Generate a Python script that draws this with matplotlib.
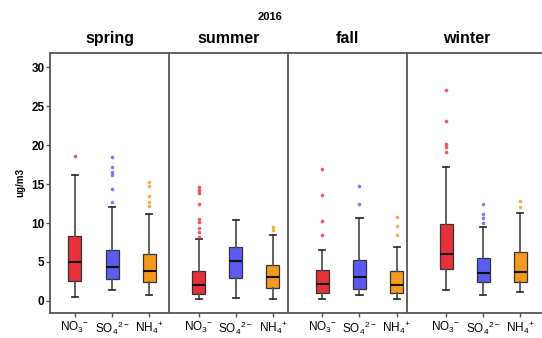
import matplotlib
matplotlib.use("Agg")
import matplotlib.pyplot as plt

plt.rcParams['font.family'] = ['Liberation Sans', 'DejaVu Sans']
plt.rcParams['mathtext.default'] = 'regular'

seasons = ["spring", "summer", "fall", "winter"]
species = [r"NO$_3$$^{-}$", r"SO$_4$$^{2-}$", r"NH$_4$$^{+}$"]
colors = ["#e8303a", "#5c5cf2", "#f39a1c"]

# five-number summaries [whislo, q1, med, q3, whishi] per season, per species
spring_stats = [[0.55, 2.56, 5.04, 8.38, 16.2], [1.41, 2.82, 4.40, 6.58, 12.0], [0.77, 2.48, 3.85, 6.07, 11.15]]
summer_stats = [[0.3, 0.95, 2.05, 3.9, 7.9], [0.35, 3.0, 5.1, 6.9, 10.4], [0.26, 1.7, 3.1, 4.57, 8.46]]
fall_stats = [[0.3, 1.07, 2.14, 3.97, 6.58], [0.77, 1.58, 3.1, 5.2, 10.6], [0.3, 1.07, 2.05, 3.85, 6.97]]
winter_stats = [[1.41, 4.15, 6.03, 9.87, 17.2], [0.77, 2.48, 3.63, 5.5, 9.44], [1.2, 2.48, 3.76, 6.28, 11.3]]

spring_out = [[18.6], [18.5, 17.2, 16.6, 16.2, 14.4, 12.7], [15.2, 14.7, 13.4, 12.7, 12.2]]
summer_out = [[14.6, 14.2, 13.8, 12.4, 10.5, 10.1, 9.3, 8.9, 8.2], [], [9.5, 9.1]]
fall_out = [[16.9, 13.6, 10.3, 8.46], [14.8, 12.5], [10.8, 9.6, 8.4]]
winter_out = [[27.05, 23.1, 20.1, 19.8, 19.1], [12.5, 11.15, 10.6, 10.0], [12.8, 12.0]]

all_stats = [spring_stats, summer_stats, fall_stats, winter_stats]
all_out = [spring_out, summer_out, fall_out, winter_out]

fig = plt.figure(figsize=(5.42, 3.38), dpi=100)
ax = fig.add_axes([50 / 542, 25 / 338, 518 / 542, 260 / 338])

x_left = -2.02
panel_w = 9.62
ax.set_xlim(x_left, x_left + 518 / 12.37)
ax.set_ylim(-1.54, 31.8)

ticks, labels = [], []
for g, (st, outs) in enumerate(zip(all_stats, all_out)):
    for i in range(3):
        pos = g * 10 + 3 * i
        s = st[i]
        bx = dict(whislo=s[0], q1=s[1], med=s[2], q3=s[3], whishi=s[4], fliers=[])
        ax.bxp([bx], positions=[pos], widths=1.05, patch_artist=True,
               showfliers=False, capwidths=0.5,
               boxprops=dict(facecolor=colors[i], edgecolor="#333333", linewidth=0.9),
               medianprops=dict(color="#111111", linewidth=1.5),
               whiskerprops=dict(color="#555555", linewidth=1.3),
               capprops=dict(color="#333333", linewidth=1.3))
        if outs[i]:
            ax.plot([pos] * len(outs[i]), outs[i], 'o', ms=2.6, color=colors[i],
                    alpha=0.8, mec='none')
        ticks.append(pos)
        labels.append(species[i])

for k in range(1, 4):
    ax.axvline(x_left + k * panel_w, color="#555555", lw=1.3)
for k, name in enumerate(seasons):
    ax.text(x_left + (k + 0.5) * panel_w, 1.025, name, transform=ax.get_xaxis_transform(),
            ha='center', va='bottom', fontsize=11.5, fontweight='bold')

fig.text(270 / 542, 1 - 17 / 338, "2016", ha='center', va='center', fontsize=8, fontweight='bold')

ax.set_xticks(ticks)
ax.set_xticklabels(labels, fontsize=8.5)
ax.set_yticks([0, 5, 10, 15, 20, 25, 30])
ax.set_yticklabels(["0", "5", "10", "15", "20", "25", "30"], fontsize=8.5, fontweight='bold')
ax.tick_params(axis='y', length=3, width=1, color="#555555", pad=1)
ax.tick_params(axis='x', length=3, width=1, color="#555555", pad=2)
ax.set_ylabel("ug/m3", fontsize=7, fontweight='bold', labelpad=4)
for sp in ax.spines.values():
    sp.set_color("#555555")
    sp.set_linewidth(1.3)

fig.savefig("out.png", dpi=100)
